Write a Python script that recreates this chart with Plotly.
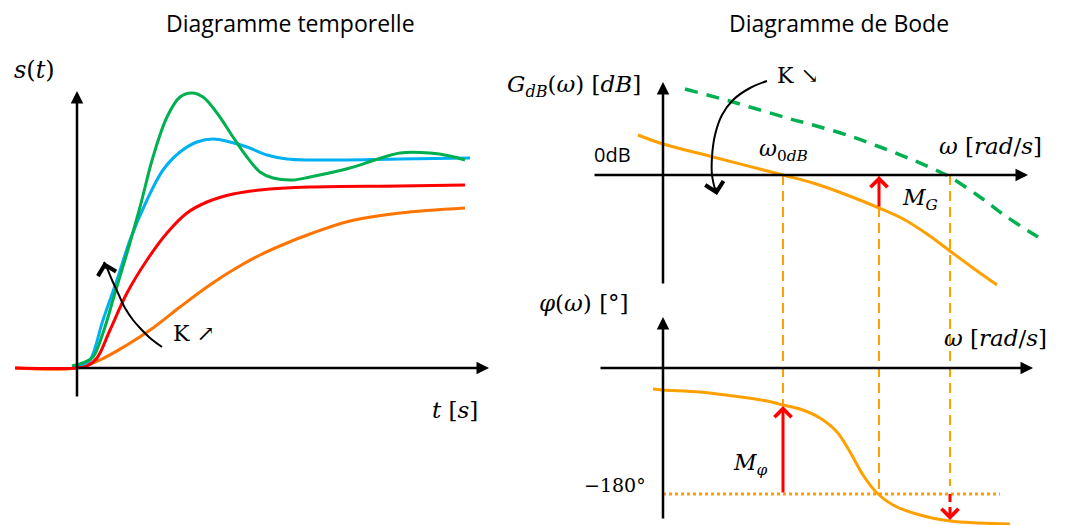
import plotly.graph_objects as go

# ---------------- data (canvas units) ----------------
# Left: time responses s(t) for increasing K
t_orange_x = [15, 77, 100, 127, 153, 180, 207, 233, 260, 287, 310, 350, 400, 465]
t_orange_y = [368, 368, 360, 345, 328, 307, 287, 270, 255, 243, 234, 221, 213, 208]
t_red_x = [15, 77, 87, 97, 110, 127, 147, 167, 187, 207, 233, 260, 310, 400, 465]
t_red_y = [368, 368, 366, 358, 330, 293, 260, 233, 213, 202, 194, 190, 187, 186, 185]
t_blue_x = [72, 82, 90, 103, 117, 130, 147, 163, 180, 197, 213, 230, 247, 267, 287, 310, 400, 470]
t_blue_y = [367, 365, 360, 320, 280, 240, 200, 170, 152, 142, 139, 142, 147, 155, 159, 160, 159, 158]
t_green_x = [72, 85, 93, 103, 115, 127, 140, 153, 167, 180, 192, 203, 217, 233, 247, 260, 273,
             293, 310, 350, 375, 400, 430, 450, 465]
t_green_y = [366, 362, 357, 333, 293, 253, 207, 157, 117, 97, 93, 97, 113, 137, 157, 172, 178,
             180, 177, 168, 160, 153, 153, 156, 160]
k_up_x = [162, 150, 140, 133, 125, 118, 112, 107, 104]
k_up_y = [347, 338, 328, 320, 308, 293, 280, 268, 262]

# Right top: gain curves
g_orange_x = [638, 663, 713, 783, 813, 847, 879, 905, 927, 950, 973, 997]
g_orange_y = [135, 144, 157, 175, 183, 195, 208, 220, 234, 251, 268, 285]
g_green_x = [685, 733, 787, 813, 847, 880, 913, 940, 950, 980, 1007, 1038]
g_green_y = [89, 102, 118, 125, 135, 147, 160, 172, 177, 197, 217, 237]
k_down_x = [767, 750, 733, 722, 715, 712, 712, 716]
k_down_y = [81, 88, 100, 115, 135, 157, 175, 193]

# Right bottom: phase curve
p_orange_x = [653, 663, 700, 733, 767, 783, 800, 820, 837, 850, 863, 877, 893, 920, 950, 980, 1010]
p_orange_y = [389, 390, 392, 396, 401, 405, 409, 418, 432, 452, 475, 493, 505, 515, 521, 523, 524]

# Characteristic points
w_0dB = 783        # gain crossover
w_180 = 879        # phase crossover
w_green = 950      # crossover of the higher-gain curve
gain_at_w180 = 208
phase_at_w0dB = 405
phase_at_wgreen = 521
gain_zero = 175
phase_180 = 494
phase_zero = 368

# ---------------- figure ----------------
fig = go.Figure()

C_GREEN = "#00B050"
C_BLUE = "#00B0F0"
C_RED = "#FF0000"
C_ORANGE_T = "#FF7400"
C_ORANGE = "#FFA000"


def line(x, y, color, width=3, dash="solid", shape="spline"):
    fig.add_trace(go.Scatter(x=x, y=y, mode="lines",
                             line=dict(color=color, width=width, dash=dash, shape=shape),
                             hoverinfo="skip", showlegend=False))


# orange dashed verticals (both Bode panels)
line([w_0dB, w_0dB], [gain_zero, phase_at_w0dB], C_ORANGE, 2, "10px,6px", "linear")
line([w_180, w_180], [gain_zero, phase_180], C_ORANGE, 2, "10px,6px", "linear")
line([w_green, w_green], [gain_zero, 486], C_ORANGE, 2, "10px,6px", "linear")
# -180 dotted line
line([663, 1000], [phase_180, phase_180], C_ORANGE, 3, "dot", "linear")

# time curves
line(t_orange_x, t_orange_y, C_ORANGE_T)
line(t_blue_x, t_blue_y, C_BLUE)
line(t_green_x, t_green_y, C_GREEN)
line(t_red_x, t_red_y, C_RED)
line(k_up_x, k_up_y, "black", 2)

# bode curves
line(g_green_x, g_green_y, C_GREEN, 3.5, "13px,9px")
line(g_orange_x, g_orange_y, C_ORANGE)
line(p_orange_x, p_orange_y, C_ORANGE)
line(k_down_x, k_down_y, "black", 2)
# red dashed segment (phase crossover of green curve)
line([w_green, w_green], [phase_180, 510], C_RED, 3, "8px,5px", "linear")

anns = []


def arrow(x0, y0, x1, y1, color="black", width=2.5, head=2, size=1.0):
    anns.append(dict(x=x1, y=y1, ax=x0, ay=y0, xref="x", yref="y", axref="x", ayref="y",
                     showarrow=True, arrowhead=head, arrowwidth=width, arrowsize=size,
                     arrowcolor=color, text=""))


# axes
arrow(77, 398, 77, 91)
arrow(77, 368, 489, 368)
arrow(663, 285, 663, 82)
arrow(593, gain_zero, 1028, gain_zero)
arrow(663, 520, 663, 317)
arrow(599, phase_zero, 1033, phase_zero)
# curved arrow heads
arrow(106, 270, k_up_x[-1], k_up_y[-1], "black", 2, 4, 1.8)
arrow(715, 186, 717, 195, "black", 2, 4, 1.8)
# margins
arrow(w_180, gain_at_w180, w_180, gain_zero + 1, C_RED, 3, 4, 1.1)
arrow(w_0dB, phase_180, w_0dB, phase_at_w0dB + 1, C_RED, 3, 4, 1.1)
arrow(w_green, 508, w_green, phase_at_wgreen - 1, C_RED, 3, 4, 1.1)

SANS = "Open Sans"
SERIF = "DejaVu Serif"


def text(x, y, s, size, family, xanchor="left"):
    anns.append(dict(x=x, y=y, xref="x", yref="y", text=s, showarrow=False,
                     xanchor=xanchor, yanchor="middle",
                     font=dict(family=family, size=size, color="black")))


text(290, 23, "Diagramme temporelle", 23, SANS, "center")
text(839, 23, "Diagramme de Bode", 23, SANS, "center")
text(12, 70, "<i>s</i>(<i>t</i>)", 24, SERIF)
text(430, 410, "<i>t</i> [<i>s</i>]", 23, SERIF)
text(171, 333, "K ↗", 22, SERIF)
text(505, 86, "<i>G</i><sub><i>dB</i></sub>(<i>ω</i>) [<i>dB</i>]", 23, SERIF)
text(592, 154, "0dB", 20, SANS)
text(775, 75, "K ↘", 22, SERIF)
text(757, 150, "<i>ω</i><sub>0<i>dB</i></sub>", 22, SERIF)
text(937, 146, "<i>ω</i> [<i>rad</i>/<i>s</i>]", 23, SERIF)
text(900, 199, "<i>M</i><sub><i>G</i></sub>", 22, SERIF)
text(537, 303, "<i>φ</i>(<i>ω</i>) [°]", 23, SERIF)
text(942, 338, "<i>ω</i> [<i>rad</i>/<i>s</i>]", 23, SERIF)
text(582, 485, "−180°", 19, SERIF)
text(731, 464, "<i>M</i><sub><i>φ</i></sub>", 22, SERIF)

fig.update_layout(
    width=1067, height=525,
    margin=dict(l=0, r=0, t=0, b=0),
    paper_bgcolor="white", plot_bgcolor="white",
    xaxis=dict(range=[0, 1067], visible=False, fixedrange=True),
    yaxis=dict(range=[525, 0], visible=False, fixedrange=True),
    annotations=anns,
    showlegend=False,
)

# remove the default page margin so the canvas sits at the window's corner
fig.write_html("out.html", config={"displayModeBar": False},
               post_script="document.body.style.margin='0';")
